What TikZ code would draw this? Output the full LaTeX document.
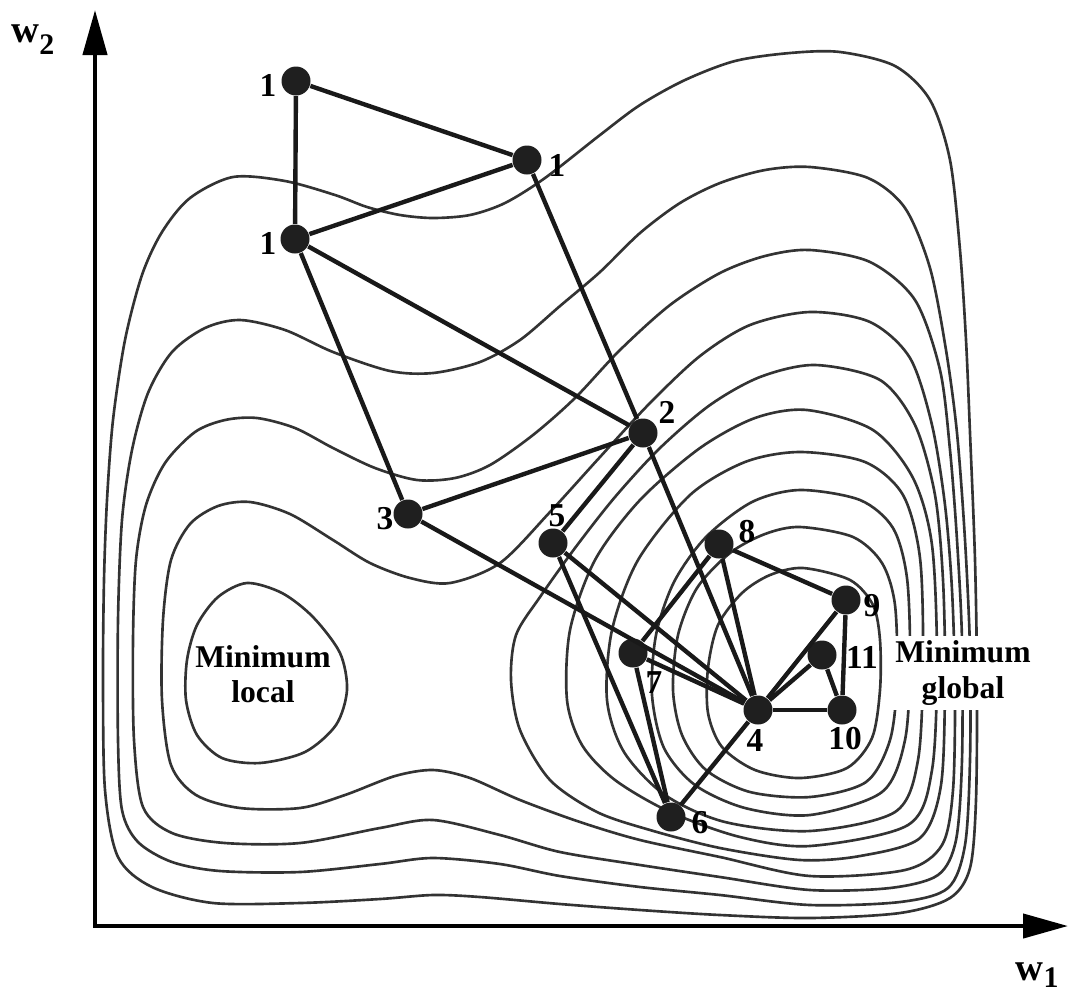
\documentclass[tikz,border=0pt]{standalone}
\usepackage{fontspec}
\setmainfont{Liberation Serif}
\usetikzlibrary{arrows.meta}
\begin{document}
\begin{tikzpicture}[x=0.1mm,y=-0.1mm,font=\bfseries\fontsize{9.5}{10}\selectfont,
  contour/.style={black!80,line width=0.75pt},
  edge/.style={black!90,line width=1.25pt},
  pt/.style={circle,fill=black!88,inner sep=0pt,minimum size=2.9mm},
  num/.style={inner sep=0pt},
  axis/.style={line width=1.2pt,>={Triangle[length=4.5mm,width=2.4mm]},<->}]
  \useasboundingbox (0,0) rectangle (1073,1000);
  % contours round the global minimum
  \draw[contour] plot[smooth cycle] coordinates {(803,568) (850,580) (873,605) (880,640) (880,690) (872,738) (847,768) (800,778) (755,770) (722,747) (708,713) (708,668) (718,625) (742,593) (770,575)};
  \draw[contour] plot[smooth cycle] coordinates {(800,527) (853,537) (882,563) (895,605) (897,680) (890,740) (866,782) (810,797) (750,792) (706,770) (682,735) (673,690) (678,635) (697,588) (730,553) (765,534)};
  \draw[contour] plot[smooth cycle] coordinates {(800,490) (860,500) (893,528) (907,578) (910,660) (905,740) (882,792) (810,815) (745,808) (695,785) (664,748) (652,695) (656,635) (674,582) (706,537) (752,502)};
  \draw[contour] plot[smooth cycle] coordinates {(800,452) (865,462) (903,495) (920,558) (923,660) (918,760) (895,812) (810,831) (725,822) (665,795) (624,752) (607,700) (612,630) (638,560) (690,495) (745,462)};
  \draw[contour] plot[smooth cycle] coordinates {(807,410) (873,430) (913,478) (932,545) (937,660) (932,770) (908,825) (810,846) (740,837) (670,812) (615,780) (582,745) (567,700) (570,630) (595,560) (640,500) (700,448) (755,418)};
  \draw[contour] plot[smooth cycle] coordinates {(815,365) (880,380) (915,425) (935,495) (943,580) (945,680) (941,785) (920,838) (860,856) (800,860) (720,848) (650,830) (597,812) (550,780) (520,730) (511,680) (516,635) (540,597) (575,548) (615,497) (660,448) (710,405) (760,377)};
  % contours round both minima
  \draw[contour] plot[smooth cycle] coordinates {(810,312) (870,322) (910,358) (932,425) (945,505) (952,590) (955,690) (953,790) (942,845) (905,870) (810,876) (720,857) (640,840) (580,822) (520,800) (470,778) (433,770) (395,776) (345,795) (300,808) (240,808) (196,795) (171,765) (162,700) (163,620) (171,560) (190,524) (218,506) (250,502) (290,514) (333,540) (370,563) (410,578) (450,583) (500,563) (550,512) (600,457) (650,403) (700,356) (750,325)};
  \draw[contour] plot[smooth cycle] coordinates {(810,250) (870,262) (915,300) (940,370) (950,450) (957,540) (962,640) (962,760) (956,840) (938,875) (890,888) (810,890) (720,877) (640,865) (560,852) (500,835) (433,820) (380,828) (300,843) (225,843) (172,833) (143,807) (134,740) (133,640) (136,560) (146,505) (165,463) (195,432) (225,420) (257,418) (295,428) (333,448) (375,468) (417,480) (455,478) (490,465) (533,435) (575,398) (620,350) (670,305) (720,273) (765,256)};
  \draw[contour] plot[smooth cycle] coordinates {(810,167) (868,178) (905,208) (930,268) (946,350) (957,433) (965,540) (970,650) (970,760) (965,845) (948,888) (900,902) (810,905) (720,895) (640,887) (560,876) (500,864) (433,858) (380,864) (300,872) (220,871) (172,862) (138,842) (122,810) (118,740) (118,620) (122,520) (132,450) (148,393) (172,352) (205,328) (240,320) (285,330) (333,352) (390,371) (433,373) (480,362) (520,340) (560,306) (600,272) (640,233) (680,203) (720,183) (765,170)};
  \draw[contour] plot[smooth cycle] coordinates {(840,52) (895,66) (930,100) (950,160) (960,250) (966,340) (970,433) (975,560) (977,680) (976,800) (970,868) (950,898) (900,913) (810,918) (720,915) (640,910) (560,904) (480,897) (433,895) (380,899) (300,903) (213,903) (152,887) (118,857) (105,790) (103,680) (104,580) (107,500) (113,420) (125,340) (142,275) (162,232) (190,198) (233,177) (285,181) (335,195) (367,207) (400,215) (433,218) (470,215) (505,203) (545,178) (600,135) (640,105) (685,80) (735,61) (790,53)};
  % local minimum
  \draw[contour] plot[smooth cycle] coordinates {(247,583) (282,593) (313,617) (340,653) (347,690) (336,725) (305,752) (260,763) (222,758) (197,735) (186,700) (187,660) (197,625) (218,597)};
  \node[align=center,font=\bfseries\fontsize{9}{10}\selectfont] (lmin) at (263,674) {Minimum\\local};
  \node[align=center,fill=white,inner sep=1.5pt,font=\bfseries\fontsize{9}{10}\selectfont] (gmin) at (963,673) {Minimum\\global};
  % axes
  \coordinate (o) at (95,926);
  \coordinate (xend) at (1068,926);
  \coordinate (yend) at (95,10);
  \draw[axis] (yend) -- (o) -- (xend);
  \node[font=\bfseries\fontsize{11}{12}\selectfont] (w2) at (33,40) {w\raisebox{-3.4pt}{\fontsize{8.5}{10}\selectfont 2}};
  \node[font=\bfseries\fontsize{11}{12}\selectfont] (w1) at (1037,975) {w\raisebox{-2pt}{\fontsize{8.5}{10}\selectfont 1}};
  % simplex vertices
  \node[pt] (a1) at (296,81) {};
  \node[pt] (b1) at (527,160) {};
  \node[pt] (c1) at (295,239) {};
  \node[pt] (v2) at (643,433) {};
  \node[pt] (v3) at (408,514) {};
  \node[pt] (v5) at (553,543) {};
  \node[pt] (v8) at (719,544) {};
  \node[pt] (v9) at (846,600) {};
  \node[pt] (v7) at (633,653) {};
  \node[pt] (v11) at (822,655) {};
  \node[pt] (v4) at (758,710) {};
  \node[pt] (v10) at (842,710) {};
  \node[pt] (v6) at (671,817) {};
  % simplex edges
  \draw[edge] (a1) -- (b1);
  \draw[edge] (a1) -- (c1);
  \draw[edge] (c1) -- (b1);
  \draw[edge] (c1) -- (v2);
  \draw[edge] (c1) -- (v3);
  \draw[edge] (b1) -- (v2);
  \draw[edge] (v2) -- (v4);
  \draw[edge] (v3) -- (v2);
  \draw[edge] (v3) -- (v4);
  \draw[edge] (v2) -- (v5);
  \draw[edge] (v5) -- (v4);
  \draw[edge] (v5) -- (v6);
  \draw[edge] (v7) -- (v8);
  \draw[edge] (v7) -- (v4);
  \draw[edge] (v7) -- (v6);
  \draw[edge] (v8) -- (v4);
  \draw[edge] (v8) -- (v9);
  \draw[edge] (v9) -- (v4);
  \draw[edge] (v9) -- (v10);
  \draw[edge] (v4) -- (v11);
  \draw[edge] (v11) -- (v10);
  \draw[edge] (v4) -- (v10);
  \draw[edge] (v4) -- (v6);
  % vertex numbers
  \node[num] (la1) at (268,85) {1};
  \node[num] (lc1) at (268,243) {1};
  \node[num] (lb1) at (557,165) {1};
  \node[num] (l2) at (667,412) {2};
  \node[num] (l3) at (385,519) {3};
  \node[num] (l5) at (557,516) {5};
  \node[num] (l8) at (747,532) {8};
  \node[num] (l9) at (872,606) {9};
  \node[num] (l11) at (862,657) {11};
  \node[num] (l7) at (654,683) {7};
  \node[num] (l4) at (755,740) {4};
  \node[num] (l10) at (845,739) {10};
  \node[num] (l6) at (700,823) {6};
\end{tikzpicture}
\end{document}
